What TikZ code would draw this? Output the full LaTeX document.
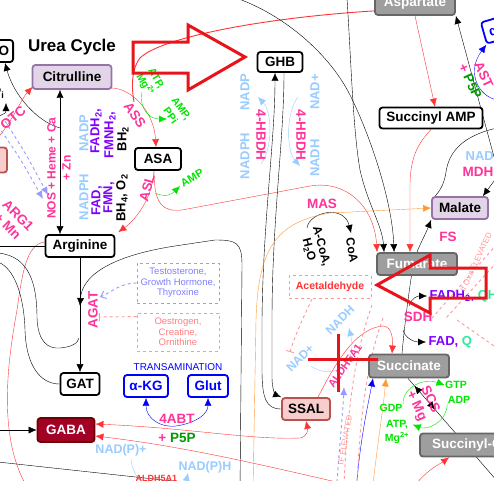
\documentclass[tikz,border=0pt]{standalone}
\usepackage{fontspec}
\setmainfont{Liberation Sans}
\usepackage{xcolor}
\usepackage{tikz}
\usetikzlibrary{positioning,arrows.meta,calc,decorations.markings}
\pgfdeclarelayer{back}
\pgfsetlayers{back,main}

\definecolor{enzpink}{HTML}{FF3399}
\definecolor{lblue}{HTML}{99CCFF}
\definecolor{cofpurple}{HTML}{7F00FF}
\definecolor{brgreen}{HTML}{00E600}
\definecolor{dkgreen}{HTML}{009900}
\definecolor{mint}{HTML}{33E6A0}
\definecolor{rxred}{HTML}{FF3333}
\definecolor{rxorange}{HTML}{FF9933}
\definecolor{lav}{HTML}{9999FF}
\definecolor{lavtext}{HTML}{7F7FFF}
\definecolor{salmon}{HTML}{FF9999}
\definecolor{salmontext}{HTML}{FF7F7F}
\definecolor{boxgray}{HTML}{9E9E9E}
\definecolor{grayline}{HTML}{666666}
\definecolor{purfill}{HTML}{E1D5E7}
\definecolor{purdraw}{HTML}{9673A6}
\definecolor{redfill}{HTML}{F8CECC}
\definecolor{reddraw}{HTML}{B85450}
\definecolor{gabafill}{HTML}{A20025}
\definecolor{gabaline}{HTML}{6F0000}
\definecolor{annot}{HTML}{E8141B}

\begin{document}
\begin{tikzpicture}[
    x=1pt, y=-1pt,
    >={Latex[length=8pt,width=7pt]},
    line width=1.35pt,
    box/.style={
        draw=black, line width=1.8pt,
        rounded corners=3pt, fill=white,
        font=\fontsize{13.5}{15}\selectfont\bfseries,
        inner xsep=4pt, inner ysep=2pt,
        minimum height=22pt
    },
    purplebox/.style={box, draw=purdraw, fill=purfill},
    graybox/.style={box, draw=grayline, fill=boxgray, text=white},
    redbox/.style={box, draw=reddraw, fill=redfill},
    darkbox/.style={box, draw=gabaline, fill=gabafill, text=white},
    bluebox/.style={box, draw=blue, text=blue},
    notebox/.style={
        dashed, line width=0.9pt, align=center, inner sep=3pt,
        font=\fontsize{9.5}{10.5}\selectfont
    },
    enz/.style={
        text=enzpink, inner sep=0pt, align=center,
        font=\fontsize{13.5}{15}\selectfont\bfseries
    },
    cof/.style={
        inner sep=0pt, align=center,
        font=\fontsize{13}{14}\selectfont\bfseries
    },
    smallcof/.style={
        cof, text=brgreen,
        font=\fontsize{10.5}{13}\selectfont\bfseries
    },
    rx/.style={draw=rxred},
    gx/.style={draw=brgreen},
    bx/.style={draw=lblue},
    ox/.style={draw=rxorange},
    hint/.style={dashed, line width=0.9pt},
    redmark/.style={draw=annot, line width=3pt}
]
\useasboundingbox (0,0) rectangle (494,480);
\clip (0,0) rectangle (494,480);

% compounds
\node[box] (no) at (-1,51) {NO};
\node[font=\fontsize{17}{18}\selectfont\bfseries] (title) at (72,47) {Urea Cycle};
\node[purplebox, minimum width=79pt, minimum height=24pt] (cit) at (72,77) {Citrulline};
\node[box, minimum width=46pt] (asa) at (158,159) {ASA};
\node[box, minimum width=69pt] (arg) at (80,246) {Arginine};
\node[box, minimum width=39pt] (gat) at (80,384) {GAT};
\node[darkbox, minimum width=57pt, minimum height=24pt] (gaba) at (66,430) {GABA};
\node[bluebox, minimum width=44pt] (akg) at (146,386) {α-KG};
\node[bluebox, minimum width=40pt] (glut) at (208,386) {Glut};
\node[box, minimum width=45pt, minimum height=20pt] (ghb) at (280,62) {GHB};
\node[redbox, minimum width=48pt] (ssal) at (306,409) {SSAL};
\node[graybox, minimum width=80pt, minimum height=24pt] (asp) at (415,3) {Aspartate};
\node[box, minimum width=103pt, minimum height=21pt] (samp) at (431,118) {Succinyl AMP};
\node[purplebox, minimum width=56pt] (mal) at (460,208) {Malate};
\node[graybox, minimum width=80pt] (fum) at (417,264) {Fumarate};
\node[graybox, minimum width=80pt, minimum height=23pt] (succ) at (409,366) {Succinate};
\node[graybox, minimum width=112pt, minimum height=23pt] (scoa) at (476,445) {Succinyl-CoA};
\node[redbox, minimum width=54pt, minimum height=25pt] (leftbox) at (-20,160) {};
\node[bluebox, rotate=16, minimum width=44pt] (akgtr) at (505,27) {α-KG};

\node[notebox, draw=lav, text=lavtext, minimum width=82pt, minimum height=40pt] (hormones)
    at (178,283) {Testosterone,\\Growth Hormone,\\Thyroxine};
\node[notebox, draw=salmon, text=salmontext, minimum width=82pt, minimum height=38pt] (oest)
    at (178,332) {Oestrogen,\\Creatine,\\Ornithine};
\node[notebox, draw=salmon, text=rxred, minimum width=82pt, minimum height=23pt,
    font=\fontsize{10.5}{12}\selectfont\bfseries] (acet) at (330,287) {Acetaldehyde};

% enzymes and cofactors
\node[enz, rotate=40] (otc) at (13,118) {OTC};
\node[cof, anchor=east] (pi) at (5,93) {P\textsubscript{i}};
\node[enz, rotate=-55] (ass) at (135,115) {ASS};
\node[smallcof, rotate=-60] (atp) at (150,82) {ATP,\\Mg\textsuperscript{2+}};
\node[smallcof, rotate=-55] (amppi) at (176,112) {AMP,\\PPi};
\node[enz, rotate=90, font=\fontsize{12}{15}\selectfont\bfseries] (nos) at (59,168) {NOS + Heme + Ca\\+ Zn};
\node[cof, rotate=90, text=lblue] (nadp) at (84,133) {NADP};
\node[cof, rotate=90, text=cofpurple] (fadh) at (96,131) {FADH\textsubscript{2},};
\node[cof, rotate=90, text=cofpurple] (fmnh) at (110,135) {FMNH\textsubscript{2},};
\node[cof, rotate=90] (bh2) at (123,139) {BH\textsubscript{2}};
\node[cof, rotate=90, text=lblue] (nadph) at (84,197) {NADPH};
\node[cof, rotate=90, text=cofpurple] (fad) at (97,201) {FAD,};
\node[cof, rotate=90, text=cofpurple] (fmn) at (109,198) {FMN,};
\node[cof, rotate=90] (bh4) at (122,198) {BH\textsubscript{4}, O\textsubscript{2}};
\node[enz, rotate=-45] (arg1) at (13,221) {ARG1\\+ Mn};
\node[enz, rotate=75] (asl) at (147,188) {ASL};
\node[smallcof, rotate=30, font=\fontsize{11}{12}\selectfont\bfseries] (amp) at (192,178) {AMP};
\node[enz, rotate=90] (agat) at (93,310) {AGAT};

\node[enz, rotate=-90] (hbdha) at (261,135) {4-HBDH};
\node[enz, rotate=-90] (hbdhb) at (301,135) {4-HBDH};
\node[cof, rotate=90, text=lblue] (ghbnadp) at (245,92) {NADP};
\node[cof, rotate=90, text=lblue] (ghbnadph) at (245,156) {NADPH};
\node[cof, rotate=90, text=lblue] (ghbnad) at (315,92) {NAD+};
\node[cof, rotate=90, text=lblue] (ghbnadh) at (315,158) {NADH};

\node[enz] (mas) at (322,204) {MAS};
\node[cof, rotate=-75, font=\fontsize{12}{13}\selectfont\bfseries] (acoa) at (315,248) {A-CoA,\\H\textsubscript{2}O};
\node[cof, rotate=-80, font=\fontsize{12}{13}\selectfont\bfseries] (coa) at (352,250) {CoA};
\node[enz] (fs) at (448,237) {FS};
\node[enz] (sdh) at (418,317) {SDH};
\node[cof, anchor=west, text=cofpurple] (fadh2) at (429,296) {FADH\textsubscript{2}, \textcolor{mint}{QH\textsubscript{2}}};
\node[cof, anchor=west, text=cofpurple] (fadq) at (428,342) {FAD, \textcolor{mint}{Q}};
\node[enz, rotate=-65] (scs) at (423,403) {SCS\\+ Mg};
\node[smallcof] (gtp) at (456,385) {GTP};
\node[smallcof] (adp) at (459,400) {ADP};
\node[smallcof] (gdp) at (391,408) {GDP};
\node[smallcof, font=\fontsize{10.5}{14}\selectfont\bfseries] (atpmg) at (397,432) {ATP,\\Mg\textsuperscript{2+}};
\node[enz, rotate=-65] (ast) at (477,78) {AST\\+ \textcolor{dkgreen}{P5P}};
\node[enz] (mdh) at (478,172) {MDH};
\node[cof, anchor=west, text=lblue] (mdhnad) at (465,156) {NADH};

\node[text=blue, font=\fontsize{10}{11}\selectfont] (trans) at (178,367) {TRANSAMINATION};
\node[enz] (abt) at (177,419) {4ABT};
\node[enz, below=8pt of abt] (p5p) {+ \textcolor{dkgreen}{P5P}};
\node[cof, text=lblue, font=\fontsize{12.5}{13}\selectfont\bfseries] (npplus) at (121,450) {NAD(P)+};
\node[cof, text=lblue, font=\fontsize{12.5}{13}\selectfont\bfseries] (nph) at (205,467) {NAD(P)H};
\node[cof, anchor=west, text=rxred, font=\fontsize{9}{10}\selectfont\bfseries] (aldh) at (135,478) {ALDH5A1};
\node[enz, rotate=55, font=\fontsize{11}{12}\selectfont\bfseries] (aldhb) at (345,366) {ALDH5A1};
\node[cof, rotate=45, text=lblue, font=\fontsize{12}{13}\selectfont\bfseries] (ssalnad) at (300,358) {NAD+};
\node[cof, rotate=45, text=lblue, font=\fontsize{12}{13}\selectfont\bfseries] (ssalnadh) at (340,320) {NADH};
\node[text=salmon, font=\fontsize{8}{9}\selectfont, rotate=80] (ifel) at (345,440) {IF ELEVATED};
\node[text=salmon, font=\fontsize{8}{9}\selectfont, rotate=65] (ifoxa) at (476,262) {If Oxa ELEVATED};

% connectors
\begin{pgfonlayer}{back}
\fill[white] (0,0) rectangle (494,480);
\coordinate (lv) at (60,0);
\coordinate (nojoin) at (60,128);
\coordinate (pistart) at (-1,116);
\coordinate (piend) at (6,103);
\coordinate (otcstart) at (-4,140);
\coordinate (assjoin) at (134,102);
\coordinate (atpstart) at (142,92);
\coordinate (atpend) at (167,119);
\coordinate (ampstart) at (155,193);
\coordinate (ampend) at (180,186);
\coordinate (nosa) at (-2,126);
\coordinate (nosb) at (43,199);
\coordinate (nosc) at (5,121);
\coordinate (nosd) at (48,195);
\coordinate (argend) at (30,492);
\coordinate (lefta) at (-2,246);
\coordinate (leftb) at (-2,253);
\coordinate (leftc) at (-2,262);
\coordinate (agatj) at (79,338);
\coordinate (agatm) at (80,306);
\coordinate (bigstart) at (240,492);
\coordinate (agatt) at (100,297);
\coordinate (agati) at (99,317);
\coordinate (hbaa) at (261,164);
\coordinate (hbab) at (258,97);
\coordinate (hbba) at (298,97);
\coordinate (hbbb) at (300,166);
\coordinate (coaa) at (307,228);
\coordinate (coab) at (351,233);
\coordinate (orstart) at (253,492);
\coordinate (bca) at (236,-2);
\coordinate (bcb) at (347,-2);
\coordinate (aspin) at (497,168);
\coordinate (aststart) at (497,100);
\coordinate (mdhstart) at (497,128);
\coordinate (mdhin) at (497,177);
\coordinate (sdhup) at (409,306);
\coordinate (sdhdn) at (403,330);
\coordinate (scsend) at (498,482);
\coordinate (orb) at (372,492);
\coordinate (blb) at (356,492);
\coordinate (rsc) at (410,492);
\coordinate (nadarc) at (311,366);
\coordinate (nadtip) at (349,328);
\coordinate (acetend) at (290,352);
\coordinate (gabain) at (-2,430);
\coordinate (gabalow) at (345,484);
\coordinate (bla) at (-2,462);
\coordinate (blb2) at (200,484);
\coordinate (npa) at (131,459);
\coordinate (npb) at (188,473);
\coordinate (ifa) at (497,244);
\coordinate (ifb) at (432,318);
\coordinate (ifc) at (497,262);
\coordinate (ifd) at (446,318);
\coordinate (ife) at (372,305);
\coordinate (iff) at (344,484);
\coordinate (ifg) at (383,318);
\coordinate (ifh) at (357,484);
\coordinate (ifi) at (337,482);
\coordinate (ifj) at (344,387);
\coordinate (ifk) at (457,320);
\coordinate (ifl) at (497,348);

% urea cycle
\draw[<->] (cit.south -| lv) -- (arg.north -| lv);
\draw[->] (nojoin) .. controls (38,122) and (14,96) .. ($(no.south east)+(-9,0)$);
\draw[->] (pistart) .. controls (6,113) .. (piend);
\draw[rx, ->] (otcstart) .. controls (12,122) and (22,98) .. ($(cit.south west)+(1,-3)$);
\draw[rx, ->] ($(cit.south east)+(-2,-2)$) .. controls (132,88) and (154,112) .. ($(asa.north)+(-2,0)$);
\draw[rx, line width=0.9pt] ($(asp.south west)+(0,-5)$) .. controls (260,18) and (160,38) .. (140,58)
    .. controls (132,68) and (131,85) .. (assjoin);
\draw[gx, ->] (atpstart) .. controls (139,110) and (150,119) .. (atpend);
\draw[rx, ->] ($(asa.south)+(-4,0)$) .. controls (152,200) and (135,220) .. ($(arg.north east)+(3,-2)$);
\draw[rx, ->] ($(asa.south)+(-4,0)$) .. controls (154,205) and (163,212) .. (182,210) -- (310,186)
    .. controls (345,180) and (374,205) .. ($(fum.north west)+(1,0)$);
\draw[gx, ->] (ampstart) .. controls (166,198) and (172,194) .. (ampend);
\draw[draw=lav, hint, ->] (nosa) .. controls (20,158) .. (nosb);
\draw[draw=lav, hint, ->] (nosc) .. controls (26,154) .. (nosd);
\draw[rx] ($(arg.west)+(0,-4)$) .. controls (26,244) and (22,275) .. (17,310)
    .. controls (8,360) and (-4,440) .. (argend);
\draw (lefta) -- (arg.west);
\draw (leftb) .. controls (30,256) and (37,285) .. (37,318) .. controls (38,342) and (48,349) .. (60,348)
    .. controls (72,347) and (78,343) .. (agatj);
\draw (leftc) .. controls (14,268) and (24,295) .. (25,330) .. controls (26,365) and (40,384) .. (gat.west);
\draw[->] (arg.south) -- (gat.north);
\draw[->] (bigstart) -- (242,265) .. controls (242,242) and (236,240) .. (215,240) -- (175,246)
    .. controls (110,256) and (82,276) .. (agatm);
\draw[draw=lav, hint, -{Straight Barb[length=5pt,width=8pt]}] (hormones.west)
    .. controls (120,283) and (112,292) .. (agatt);
\draw[draw=salmon, hint, -{Bar[width=8pt]}] ($(oest.north west)+(0,4)$) -- (agati);

% GHB shunt
\draw[->] (ssal.west) .. controls (266,409) and (262,398) .. (262,370) -- (262,320)
    .. controls (263,220) and (275,140) .. ($(ghb.south)+(-5,0)$);
\draw[->] ($(ghb.south)+(4,0)$) .. controls (284,140) and (272,220) .. (272,320) -- (272,378)
    .. controls (272,390) and (276,395) .. ($(ssal.north west)+(0,0)$);
\draw[bx, ->] (hbaa) .. controls (273,148) and (272,112) .. (hbab);
\draw[bx, ->] (hbba) .. controls (286,112) and (286,150) .. (hbbb);

% TCA side
\draw[->] (coaa) .. controls (309,212) and (344,204) .. (coab);
\draw[ox, ->] (orstart) -- (256,320) .. controls (258,250) and (275,222) .. (330,213) -- (mal.west);
\draw[->] (bca) .. controls (285,15) and (330,55) .. (350,95)
    .. controls (370,135) and (392,200) .. ($(fum.north west)+(18,0)$);
\draw[->] (bcb) .. controls (351,60) and (353,130) .. (360,170)
    .. controls (368,205) and (382,225) .. ($(fum.north west)+(8,0)$);
\draw[rx, ->] (asp.south) -- ($(samp.north)+(4,0)$);
\draw[rx, ->] (samp.south) .. controls (424,138) and (410,150) .. (410,185) -- ($(fum.north)+(-7,0)$);
\draw[->] (aspin) -- (asp.south east);
\draw[draw=blue, ->] (aststart) .. controls (478,96) and (466,72) .. (akgtr.south west);
\draw (mdhstart) .. controls (462,136) and (449,152) .. (446,172)
    .. controls (444,186) and (438,193) .. ($(mal.north west)+(4,0)$);
\draw[->] (mdhin) -- ($(mal.north east)+(-6,0)$);
\draw[->] ($(succ.north)+(-7,0)$) .. controls (404,330) and (409,290) .. (413,266)
    .. controls (416,250) and (424,238) .. (mal.south west);
\draw[->] (sdhup) .. controls (412,297) and (418,296) .. ($(fadh2.west)+(-2,0)$);
\draw[->] (sdhdn) .. controls (405,338) and (414,342) .. ($(fadq.west)+(-2,0)$);
\draw[postaction={decorate}, decoration={markings,
    mark=at position 0.13 with {\arrow{<}}, mark=at position 0.3 with {\arrow{>}}}]
    ($(succ.south)+(-1,0)$) -- (scsend);
\draw[gx, ->] (gdp.north east) .. controls (403,386) and (425,378) .. (gtp.west);
\draw[gx, ->] (adp.south west) .. controls (446,424) and (426,430) .. ($(atpmg.north east)+(3,5)$);
\draw[ox, ->] (orb) .. controls (378,440) and (383,410) .. ($(succ.south)+(-23,0)$);
\draw[draw=blue, ->] (blb) .. controls (360,440) and (367,410) .. ($(succ.south)+(-36,0)$);
\draw[rx, ->] (rsc) .. controls (425,470) and (440,464) .. ($(scoa.south west)+(30,0)$);
\draw[rx, ->] ($(ssal.north)+(12,0)$) .. controls (336,362) and (356,328) .. (383,326)
    .. controls (392,326) and (393,340) .. ($(succ.north)+(-17,0)$);
\draw[bx, ->] (nadarc) .. controls (330,380) and (358,368) .. (nadtip);
\draw[draw=salmon, hint, -{Bar[width=8pt]}] ($(acet.south)+(-18,0)$)
    .. controls (302,320) and (294,338) .. (acetend);
\draw[draw=salmon, hint] (ifa) -- (ifb);
\draw[draw=salmon, hint] (ifc) -- (ifd);
\draw[draw=salmon, hint] (ife) .. controls (356,350) and (348,400) .. (iff);
\draw[draw=salmon, hint] (ifg) .. controls (366,365) and (360,420) .. (ifh);
\draw[draw=salmon, hint] (ifk) -- (ifl);
\draw[draw=lav, hint, ->] (ifi) .. controls (340,440) and (343,410) .. (ifj);

% GABA and transamination
\draw (bla) -- (blb2);
\draw[->] (gabain) -- (gaba.west);
\draw[rx, <->] ($(gaba.east)+(0,-6)$) .. controls (190,428) and (250,440) .. (300,438)
    .. controls (307,437) and (308,430) .. (ssal.south);
\draw[rx, ->] (gabalow) .. controls (250,462) and (180,446) .. ($(gaba.east)+(0,6)$);
\draw[draw=blue, <->] (akg.south) .. controls (146,418) and (160,428) .. (176,426)
    .. controls (196,423) and (208,414) .. (glut.south);
\draw[bx, ->] (npa) .. controls (134,495) and (182,500) .. (npb);
\end{pgfonlayer}

% red marks
\draw[redmark] (133,42) -- (188,42) -- (188,25) -- (245,57) -- (188,90) -- (188,73) -- (133,73) -- cycle;
\draw[redmark] (377,285) -- (430,255) -- (430,268) -- (486,268) -- (486,298) -- (430,298) -- (430,313) -- cycle;
\draw[redmark] (308,359) -- (378,359);
\draw[redmark] (338,334) -- (338,392);
\end{tikzpicture}
\end{document}
